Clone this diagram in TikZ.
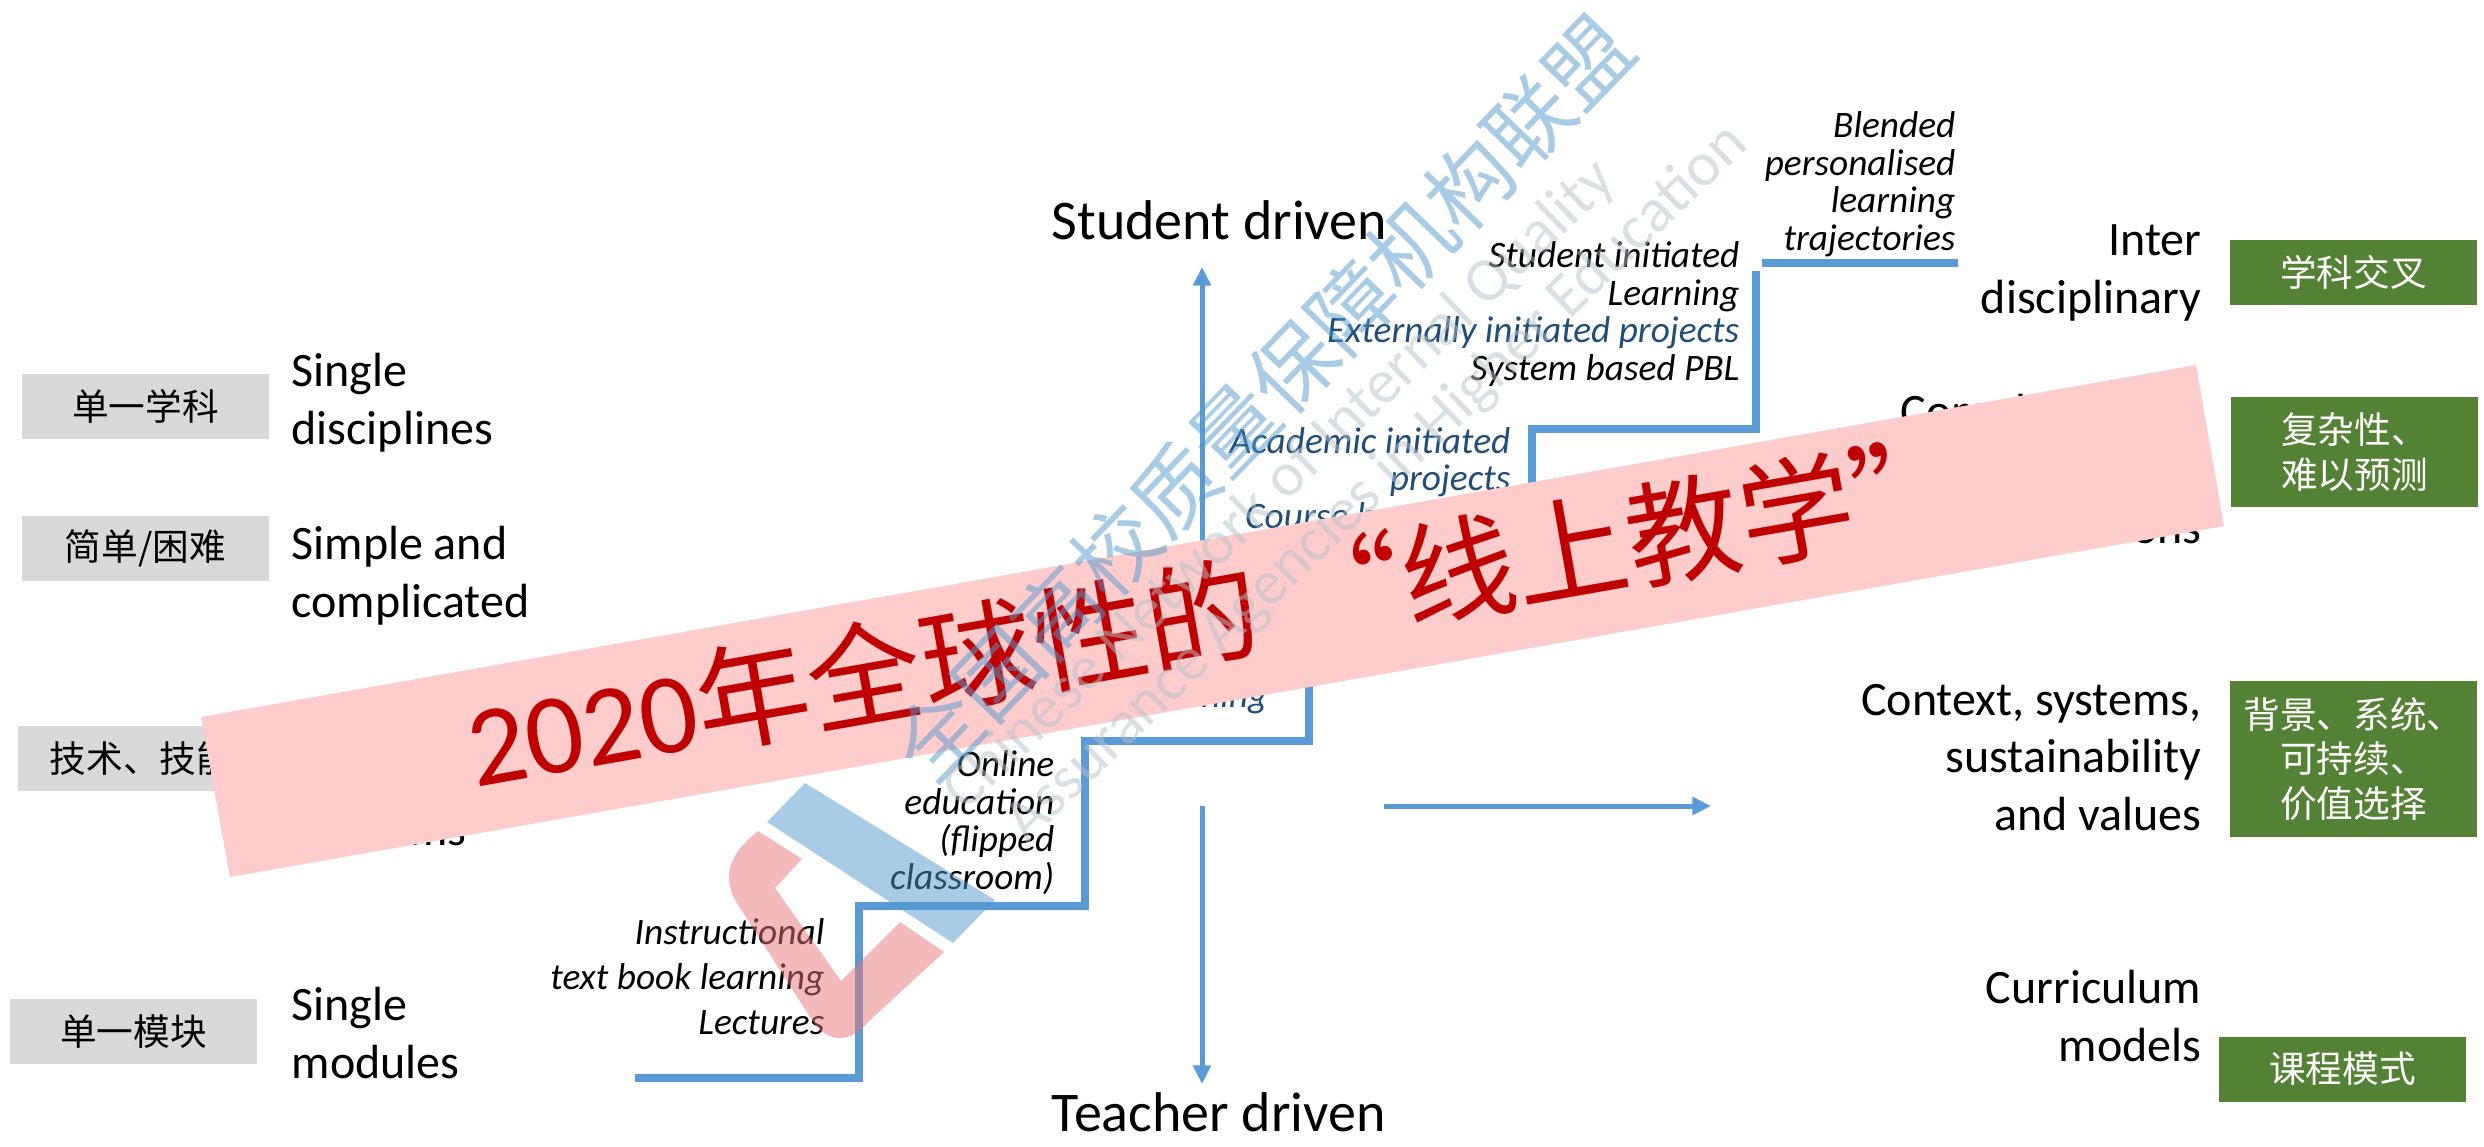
\documentclass[tikz,border=0pt]{standalone}
\usepackage{fontspec}
\setmainfont{Carlito}
\newfontfamily\cjk{Noto Sans CJK SC}
\usetikzlibrary{arrows.meta}
\definecolor{stepblue}{HTML}{5B9BD5}
\definecolor{darkblue}{HTML}{1F4E79}
\definecolor{greybox}{HTML}{D9D9D9}
\definecolor{greenbox}{HTML}{548235}
\definecolor{bannerfill}{HTML}{FFCCCC}
\definecolor{bannertext}{HTML}{C00000}
\definecolor{wmblue}{HTML}{5399CD}
\definecolor{wmred}{HTML}{E97373}
\definecolor{wmgrey}{HTML}{B4C2C9}
\tikzset{
  x=0.3pt,y=-0.3pt,
  tagbox/.style={minimum width=74.1pt,inner sep=0pt,font=\cjk\fontsize{11}{13.4}\selectfont,align=center},
  greytag/.style={tagbox,fill=greybox,text=black},
  greentag/.style={tagbox,fill=greenbox,text=white},
  big/.style={inner sep=0pt,font=\fontsize{14.4}{17.2}\selectfont},
  leftlabel/.style={big,anchor=base west,align=left},
  rightlabel/.style={big,anchor=base east,align=right},
  axis label/.style={inner sep=0pt,font=\fontsize{16.8}{19}\selectfont,anchor=base west},
  note/.style={inner sep=0pt,font=\itshape\fontsize{11.2}{11.25}\selectfont,anchor=base east,align=right},
  stepline/.style={draw=stepblue,line width=2.2pt},
  axisarrow/.style={draw=stepblue,line width=1.5pt,-{Triangle[length=5.6pt,width=5.2pt]}},
  wmtext/.style={inner sep=0pt,opacity=.5,text=wmgrey,font=\fontsize{18.7}{20}\selectfont}
}
\begin{document}
\begin{tikzpicture}
\useasboundingbox (0,0) rectangle (2484,1146);
% grey tags
\node[greytag,minimum height=19.5pt] (g1) at (145.5,406.5) {单一学科};
\node[greytag,minimum height=19.5pt] (g2) at (145.5,548.5) {简单/困难};
\node[greytag,minimum height=19.5pt] (g3) at (141.5,758.5) {技术、技能};
\node[greytag,minimum height=19.5pt] (g4) at (133.5,1031.5) {单一模块};
% green tags
\node[greentag,minimum height=19.5pt] (t1) at (2353.5,272.5) {学科交叉};
\node[greentag,minimum height=33pt] (t2) at (2354.5,452) {复杂性、\\难以预测};
\node[greentag,minimum height=46.8pt] (t3) at (2353.5,759) {背景、系统、\\可持续、\\价值选择};
\node[greentag,minimum height=19.5pt] (t4) at (2342.5,1069) {课程模式};
% left labels
\node[leftlabel] (l1) at (291,444) {Single\\disciplines};
\node[leftlabel] (l2) at (291,617) {Simple and\\complicated};
\node[big,anchor=base east] (l3) at (467,845) {problems};
\node[leftlabel] (l4) at (291,1078) {Single\\modules};
% right labels
\node[rightlabel] (r1) at (2202,313) {Inter\\disciplinary};
\node[big,anchor=base west] (r2a) at (1900,427) {Complex and};
\node[rightlabel] (r2b) at (2202,543) {questions};
\node[rightlabel] (r3) at (2202,830) {Context, systems,\\sustainability\\and values};
\node[rightlabel] (r4) at (2202,1061) {Curriculum\\models};
% axis labels
\node[axis label] (sd) at (1051,239) {Student driven};
\node[axis label] (td) at (1051,1131) {Teacher driven};
% notes
\node[note,font=\itshape\fontsize{11.2}{13.5}\selectfont] (n1) at (825,1034) {Instructional\\text book learning\\Lectures};
\node[note] (n2) at (1055,889) {Online\\education\\(flipped\\classroom)};
\node[note,text=darkblue] (n3) at (1268,707) {learning};
\node[note,text=darkblue] (n4) at (1511,528) {Academic initiated\\projects\\Course based PBL};
\node[note] (n5) at (1740,380) {Student initiated\\Learning\\\textcolor{darkblue}{Externally initiated projects}\\System based PBL};
\node[note] (n6) at (1956,250) {Blended\\personalised\\learning\\trajectories};
% axes
\coordinate (upS) at (1202,600);
\coordinate (upE) at (1202,267);
\coordinate (dnS) at (1202,806);
\coordinate (dnE) at (1202,1084);
\coordinate (rtS) at (1384,806);
\coordinate (rtE) at (1711,806);
\draw[axisarrow] (upS) -- (upE);
\draw[axisarrow] (dnS) -- (dnE);
\draw[axisarrow] (rtS) -- (rtE);
% stepped line
\coordinate (s0) at (635,1078);
\coordinate (s1) at (859,1078);
\coordinate (s2) at (859,906);
\coordinate (s3) at (1085,906);
\coordinate (s4) at (1085,741);
\coordinate (s5) at (1309,741);
\coordinate (s6) at (1309,560);
\coordinate (s7) at (1532,560);
\coordinate (s8) at (1532,429);
\coordinate (s9) at (1756,429);
\coordinate (s10) at (1756,271);
\coordinate (s11) at (1762,263);
\coordinate (s12) at (1958,263);
\draw[stepline] (s0) -- (s1) -- (s2) -- (s3) -- (s4) -- (s5) -- (s6) -- (s7) -- (s8) -- (s9) -- (s10);
\draw[stepline] (s11) -- (s12);
% banner
\coordinate (b1) at (201,717);
\coordinate (b2) at (2196,365);
\coordinate (b3) at (2224,526);
\coordinate (b4) at (230,877);
\fill[bannerfill] (b1) -- (b2) -- (b3) -- (b4) -- cycle;
\node[inner sep=0pt,rotate=10,text=bannertext,font=\fontsize{34.3}{40}\selectfont] (bt) at (1216,612) {2020{\cjk 年全球性的\hspace{.27em}“线上教学”}};
% watermark logo
\fill[wmblue,opacity=.5] (805,783) -- (767,822) -- (953,943) -- (995,900) -- cycle;
\fill[wmred,opacity=.5] (758,831) .. controls (735,850) and (720,870) .. (735,900) -- (812,1020) .. controls (825,1042) and (850,1045) .. (868,1022) -- (944,952) -- (900,922) -- (841,981) -- (775,888) -- (802,859) -- cycle;
% watermark text
\node[inner sep=0pt,rotate=46,opacity=.5,text=wmblue,font=\cjk\fontsize{25.5}{30}\selectfont] (wm1) at (1263,398) {全国高校质量保障机构联盟};
\node[wmtext,rotate=44] (wm2) at (1280,486) {Chinese Network of Internal Quality};
\node[wmtext,rotate=44] (wm3) at (1377,484) {Assurance Agencies in Higher Education};
\end{tikzpicture}
\end{document}
